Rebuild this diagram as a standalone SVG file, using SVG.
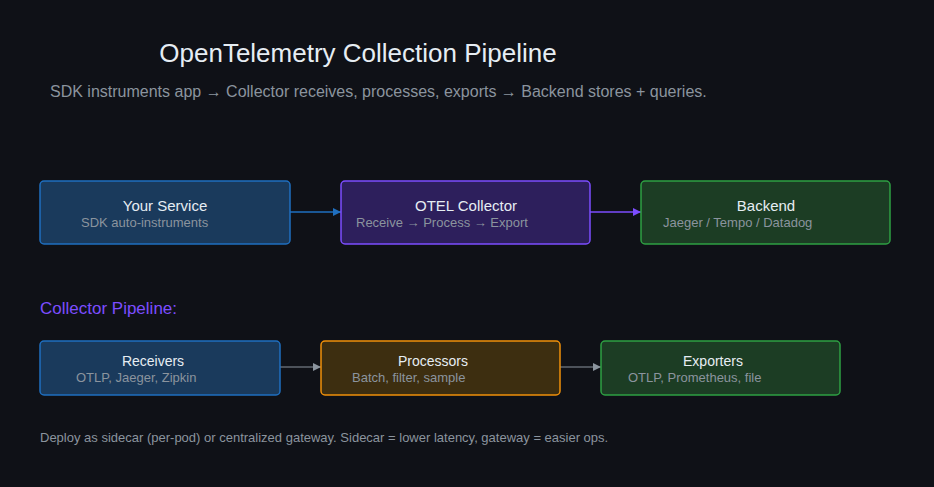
<svg xmlns="http://www.w3.org/2000/svg" width="934" height="487" viewBox="0 0 934 487">
<defs>
<style>
text{font-family:"Liberation Sans",Arial,sans-serif}
.t{fill:#e6edf3;font-size:15px;text-anchor:middle}
.t2{fill:#e6edf3;font-size:14px;text-anchor:middle}
.s{fill:#8b949e;font-size:13px}
.bl{fill:#1a3a5c;stroke:#1f6fc0;stroke-width:1.5}
.pu{fill:#2d1f5c;stroke:#7c4dff;stroke-width:1.5}
.gr{fill:#1c3d24;stroke:#2ea043;stroke-width:1.5}
.or{fill:#3d2e10;stroke:#f0900a;stroke-width:1.5}
</style>
<marker id="ab" markerWidth="8" markerHeight="8" refX="8" refY="4" orient="auto" markerUnits="userSpaceOnUse"><path d="M0,0L8,4L0,8z" fill="#1f6fc0"/></marker>
<marker id="ap" markerWidth="8" markerHeight="8" refX="8" refY="4" orient="auto" markerUnits="userSpaceOnUse"><path d="M0,0L8,4L0,8z" fill="#7c4dff"/></marker>
<marker id="ag" markerWidth="8" markerHeight="8" refX="8" refY="4" orient="auto" markerUnits="userSpaceOnUse"><path d="M0,0L8,4L0,8z" fill="#8b949e"/></marker>
</defs>
<rect width="934" height="487" fill="#0f1117"/>
<text x="358" y="62" style="fill:#e6edf3;font-size:26px;text-anchor:middle">OpenTelemetry Collection Pipeline</text>
<text x="50" y="97" style="fill:#8b949e;font-size:16px">SDK instruments app → Collector receives, processes, exports → Backend stores + queries.</text>
<g id="connectors">
<line x1="290" y1="212" x2="341" y2="212" stroke="#1f6fc0" stroke-width="1.5" marker-end="url(#ab)"/>
<line x1="590" y1="212" x2="641" y2="212" stroke="#7c4dff" stroke-width="1.5" marker-end="url(#ap)"/>
<line x1="280" y1="367" x2="321" y2="367" stroke="#8b949e" stroke-width="1" marker-end="url(#ag)"/>
<line x1="560" y1="367" x2="601" y2="367" stroke="#8b949e" stroke-width="1" marker-end="url(#ag)"/>
</g>
<g id="service"><rect class="bl" x="40" y="181" width="250" height="63" rx="4"/><text class="t" x="165" y="211">Your Service</text><text class="s" x="81" y="227">SDK auto-instruments</text></g>
<g id="collector"><rect class="pu" x="341" y="181" width="249" height="63" rx="4"/><text class="t" x="466" y="211">OTEL Collector</text><text class="s" x="356" y="227">Receive → Process → Export</text></g>
<g id="backend"><rect class="gr" x="641" y="181" width="249" height="63" rx="4"/><text class="t" x="766" y="211">Backend</text><text class="s" x="663" y="227">Jaeger / Tempo / Datadog</text></g>
<text x="40" y="314" style="fill:#7c4dff;font-size:17px">Collector Pipeline:</text>
<g id="receivers"><rect class="bl" x="40" y="341" width="240" height="54" rx="4"/><text class="t2" x="153" y="366">Receivers</text><text class="s" x="76" y="382">OTLP, Jaeger, Zipkin</text></g>
<g id="processors"><rect class="or" x="321" y="341" width="239" height="54" rx="4"/><text class="t2" x="433" y="366">Processors</text><text class="s" x="352" y="382">Batch, filter, sample</text></g>
<g id="exporters"><rect class="gr" x="601" y="341" width="239" height="54" rx="4"/><text class="t2" x="713" y="366">Exporters</text><text class="s" x="628" y="382">OTLP, Prometheus, file</text></g>
<text x="40" y="442" style="fill:#8b949e;font-size:13px">Deploy as sidecar (per-pod) or centralized gateway. Sidecar = lower latency, gateway = easier ops.</text>
</svg>
